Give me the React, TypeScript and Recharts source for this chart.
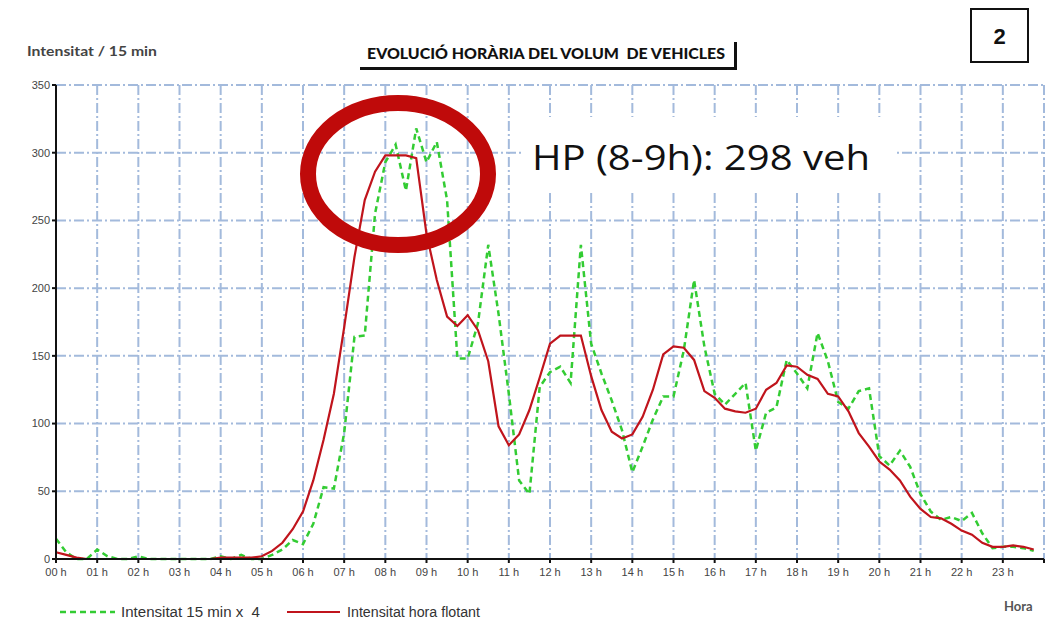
import { LineChart, Line, XAxis, YAxis, CartesianGrid } from 'recharts';

// hour ticks (0..24) and their labels
const HOURS = [0, 1, 2, 3, 4, 5, 6, 7, 8, 9, 10, 11, 12, 13, 14, 15, 16, 17, 18, 19, 20, 21, 22, 23, 24];
const HOUR_LABELS = [
  '00 h', '01 h', '02 h', '03 h', '04 h', '05 h', '06 h', '07 h', '08 h', '09 h', '10 h', '11 h',
  '12 h', '13 h', '14 h', '15 h', '16 h', '17 h', '18 h', '19 h', '20 h', '21 h', '22 h', '23 h', '',
];
const Y_TICKS = [0, 50, 100, 150, 200, 250, 300, 350];

// 15-min counts x 4 (00:00 .. 23:45)
const INTENSITAT_15 = [
  15, 5, 0, 0, 7, 2, 0, 0, 2, 0, 0, 0, 0, 0, 0, 0,
  2, 0, 3, 0, 0, 3, 7, 14, 11, 26, 53, 52, 93, 164, 165, 255,
  293, 306, 272, 318, 293, 308, 265, 148, 148, 174, 232, 181, 122, 58, 48, 127,
  138, 142, 130, 232, 159, 137, 117, 95, 64, 83, 103, 120, 120, 154, 206, 157,
  122, 114, 122, 130, 80, 108, 112, 147, 137, 126, 167, 146, 116, 111, 124, 126,
  76, 69, 80, 68, 48, 35, 29, 31, 28, 34, 19, 8, 9, 9, 8, 6,
];

// rolling hourly volume
const HORA_FLOTANT = [
  5, 3, 1, 0, 0, 0, 0, 0, 0, 0, 0, 0, 0, 0, 0, 0,
  1, 1, 1, 1, 2, 6, 12, 22, 35, 58, 88, 122, 171, 223, 265, 286,
  298, 298, 298, 296, 240, 206, 179, 172, 180, 169, 146, 98, 84, 92, 110, 134,
  159, 165, 165, 165, 135, 110, 94, 89, 92, 105, 125, 151, 157, 156, 147, 124,
  119, 111, 109, 108, 111, 125, 130, 143, 142, 136, 133, 122, 120, 109, 93, 83,
  72, 66, 58, 46, 37, 31, 30, 26, 21, 18, 12, 9, 9, 10, 9, 7,
];

const TIMES = INTENSITAT_15.map((_, i) => i / 4);

const data = TIMES.map((t, i) => ({
  t,
  g: INTENSITAT_15[i],
  r: HORA_FLOTANT[i],
}));

const GREEN = '#33cc33';
const RED = '#c0141c';
const SANS = "'Liberation Sans', Arial, sans-serif";

export default function App() {
  return (
    <div
      style={{
        position: 'absolute',
        left: 0,
        top: 0,
        width: 1046,
        height: 622,
        background: '#fff',
        fontFamily: SANS,
      }}
    >
      <LineChart
        width={1046}
        height={622}
        data={data}
        margin={{ top: 85, right: 2, left: 16, bottom: 33 }}
      >
        <CartesianGrid
          stroke="#a3badc"
          strokeWidth={2}
          strokeDasharray="10 3 2 3"
        />
        <XAxis
          type="number"
          dataKey="t"
          domain={[0, 24]}
          ticks={HOURS}
          tickFormatter={(v: number) => HOUR_LABELS[HOURS.indexOf(v)]}
          interval={0}
          height={30}
          axisLine={{ stroke: '#111', strokeWidth: 2 }}
          tickLine={{ stroke: '#111', strokeWidth: 2 }}
          tickSize={4}
          tickMargin={5}
          tick={{ fontSize: 11, fill: '#444' }}
        />
        <YAxis
          domain={[0, 350]}
          ticks={Y_TICKS}
          width={40}
          axisLine={{ stroke: '#111', strokeWidth: 2 }}
          tickLine={{ stroke: '#111', strokeWidth: 2 }}
          tickSize={4}
          tick={{ fontSize: 11, fill: '#444' }}
        />
        <Line
          type="linear"
          dataKey="g"
          stroke={GREEN}
          strokeWidth={2.5}
          strokeDasharray="6 4"
          dot={false}
          isAnimationActive={false}
        />
        <Line
          type="linear"
          dataKey="r"
          stroke={RED}
          strokeWidth={2.2}
          dot={false}
          isAnimationActive={false}
        />
      </LineChart>

      {/* annotations */}
      <svg
        width={1046}
        height={622}
        style={{ position: 'absolute', left: 0, top: 0, pointerEvents: 'none' }}
      >
        <rect x={522} y={117} width={375} height={73} fill="#fff" />
        <text
          x={532}
          y={170}
          fontFamily="'Open Sans', sans-serif"
          fontSize={35}
          fill="#111"
          textLength={338}
          lengthAdjust="spacingAndGlyphs"
        >
          HP (8-9h): 298 veh
        </text>
        <ellipse cx={398} cy={174} rx={90} ry={71} fill="none" stroke="#bf0a0a" strokeWidth={16} />

        {/* title */}
        <text
          x={367}
          y={59}
          fontFamily="Lato, sans-serif"
          fontWeight={900}
          fontSize={14.5}
          fill="#111"
          textLength={358}
          lengthAdjust="spacingAndGlyphs"
        >
          {'EVOLUCIÓ HORÀRIA DEL VOLUM\u00a0 DE VEHICLES'}
        </text>
        <line x1={360} y1={68.5} x2={737} y2={68.5} stroke="#111" strokeWidth={3} />
        <line x1={735.5} y1={42} x2={735.5} y2={70} stroke="#111" strokeWidth={3} />

        <text
          x={27}
          y={56}
          fontFamily="Lato, sans-serif"
          fontWeight={700}
          fontSize={13.5}
          fill="#444"
          textLength={130}
          lengthAdjust="spacingAndGlyphs"
        >
          Intensitat / 15 min
        </text>

        <rect x={971} y={9} width={57} height={53} fill="#fff" stroke="#111" strokeWidth={2} />
        <text
          x={999.5}
          y={44}
          textAnchor="middle"
          fontFamily={SANS}
          fontWeight={700}
          fontSize={22}
          fill="#111"
        >
          2
        </text>

        {/* legend */}
        <line x1={60} y1={612} x2={115} y2={612} stroke={GREEN} strokeWidth={2.5} strokeDasharray="6 4" />
        <text
          x={121}
          y={617}
          fontSize={14}
          fill="#333"
          fontFamily={SANS}
          textLength={139}
          lengthAdjust="spacingAndGlyphs"
        >
          {'Intensitat 15 min x\u00a0 4'}
        </text>
        <line x1={287} y1={612} x2={340} y2={612} stroke={RED} strokeWidth={2.2} />
        <text
          x={347}
          y={617}
          fontSize={14}
          fill="#333"
          fontFamily={SANS}
          textLength={133}
          lengthAdjust="spacingAndGlyphs"
        >
          Intensitat hora flotant
        </text>
        <text x={1004} y={611} fontSize={13} fontWeight={700} fill="#555" fontFamily="Lato, sans-serif">
          Hora
        </text>
      </svg>
    </div>
  );
}
